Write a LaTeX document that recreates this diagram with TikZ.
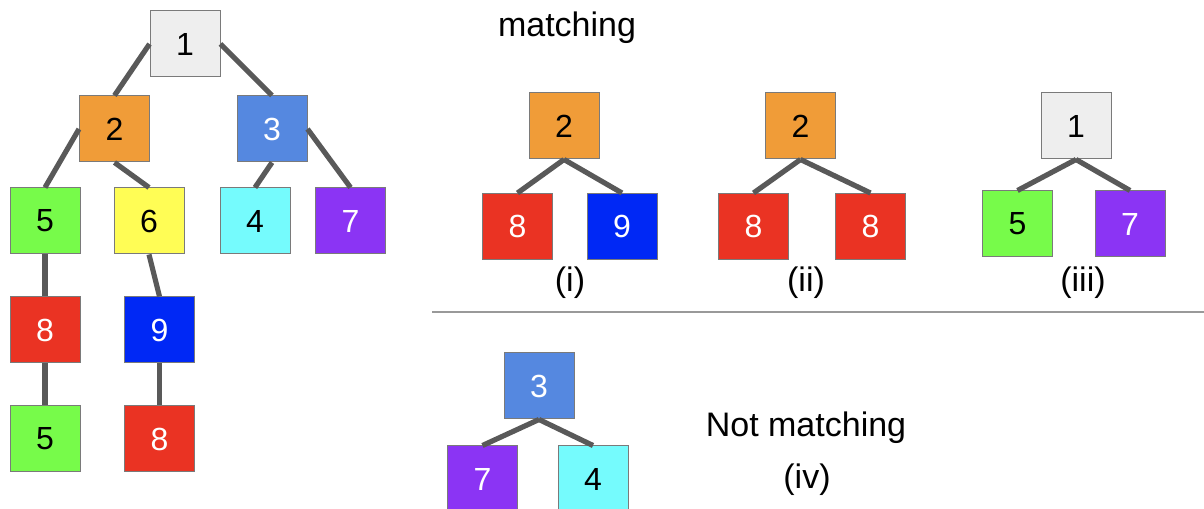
\documentclass[tikz,border=0pt]{standalone}
\usepackage{fontspec}
\setmainfont{Liberation Sans}
\definecolor{cgray}{HTML}{EEEEEE}
\definecolor{corange}{HTML}{F09C38}
\definecolor{cblue}{HTML}{5588E0}
\definecolor{cgreen}{HTML}{77FB4A}
\definecolor{cyellow}{HTML}{FFFD55}
\definecolor{ccyan}{HTML}{75FBFD}
\definecolor{cpurple}{HTML}{8B34F4}
\definecolor{cred}{HTML}{EA3323}
\definecolor{cdblue}{HTML}{0028F5}
\definecolor{edgegray}{HTML}{595959}
\definecolor{bordergray}{HTML}{7A7A7A}
\tikzset{
  box/.style={draw=bordergray, line width=0.75pt, rectangle, inner sep=0pt,
    minimum width=52.5pt, minimum height=49.5pt, font=\fontsize{24}{24}\selectfont},
  dk/.style={box, text=black},
  lt/.style={box, text=white},
  link/.style={draw=edgegray, line width=3.9pt},
  lbl/.style={font=\fontsize{25.5}{25.5}\selectfont, inner sep=0pt},
}
\begin{document}
\begin{tikzpicture}[x=0.75pt, y=-0.75pt]
  \clip (0,0) rectangle (1204,509);
  \useasboundingbox (0,0) rectangle (1204,509);

  % main tree
  \node[dk, fill=cgray]   (n1)  at (185,44)    {1};
  \node[dk, fill=corange] (n2)  at (114.5,129) {2};
  \node[lt, fill=cblue]   (n3)  at (272,129)   {3};
  \node[dk, fill=cgreen]  (n5)  at (45,221)    {5};
  \node[dk, fill=cyellow] (n6)  at (149,221)   {6};
  \node[dk, fill=ccyan]   (n4)  at (255,221)   {4};
  \node[lt, fill=cpurple] (n7)  at (350.5,221) {7};
  \node[lt, fill=cred]    (n8)  at (45,330)    {8};
  \node[lt, fill=cdblue]  (n9)  at (159.5,330) {9};
  \node[dk, fill=cgreen]  (n5b) at (45,439)    {5};
  \node[lt, fill=cred]    (n8b) at (159.5,439) {8};

  \draw[link] (n1.west) -- (n2.north);
  \draw[link] (n1.east) -- (n3.north);
  \draw[link] (n2.west) -- (n5.north);
  \draw[link] (n2.south) -- (n6.north);
  \draw[link] (n3.south) -- (n4.north);
  \draw[link] (n3.east) -- (n7.north);
  \draw[link] (n5.south) -- (n8.north);
  \draw[link] (n6.south) -- (n9.north);
  \draw[link] (n8.south) -- (n5b.north);
  \draw[link] (n9.south) -- (n8b.north);

  % matching subtrees
  \node[lbl] (tm) at (567,28) {matching};

  \node[dk, fill=corange] (a2) at (564,126)     {2};
  \node[lt, fill=cred]    (a8) at (517.5,226.5) {8};
  \node[lt, fill=cdblue]  (a9) at (622,226.5)   {9};
  \draw[link] (a2.south) -- (a8.north);
  \draw[link] (a2.south) -- (a9.north);
  \node[lbl] (li) at (570,283) {(i)};

  \node[dk, fill=corange] (b2)  at (800.5,126)   {2};
  \node[lt, fill=cred]    (b8l) at (753.5,226.5) {8};
  \node[lt, fill=cred]    (b8r) at (870.5,226.5) {8};
  \draw[link] (b2.south) -- (b8l.north);
  \draw[link] (b2.south) -- (b8r.north);
  \node[lbl] (lii) at (806,283) {(ii)};

  \node[dk, fill=cgray]   (c1) at (1076,126)   {1};
  \node[dk, fill=cgreen]  (c5) at (1017.5,224) {5};
  \node[lt, fill=cpurple] (c7) at (1130,224)   {7};
  \draw[link] (c1.south) -- (c5.north);
  \draw[link] (c1.south) -- (c7.north);
  \node[lbl] (liii) at (1083,283) {(iii)};

  % separator
  \coordinate (sa) at (432,312);
  \coordinate (sb) at (1204,312);
  \draw[draw=black!40, line width=1.5pt] (sa) -- (sb);

  % non-matching subtree
  \node[lt, fill=cblue]   (d3) at (539,386)   {3};
  \node[lt, fill=cpurple] (d7) at (482.5,479) {7};
  \node[dk, fill=ccyan]   (d4) at (593,479)   {4};
  \draw[link] (d3.south) -- (d7.north);
  \draw[link] (d3.south) -- (d4.north);
  \node[lbl] (tn) at (806,428) {Not matching};
  \node[lbl] (liv) at (807,480) {(iv)};
\end{tikzpicture}
\end{document}
